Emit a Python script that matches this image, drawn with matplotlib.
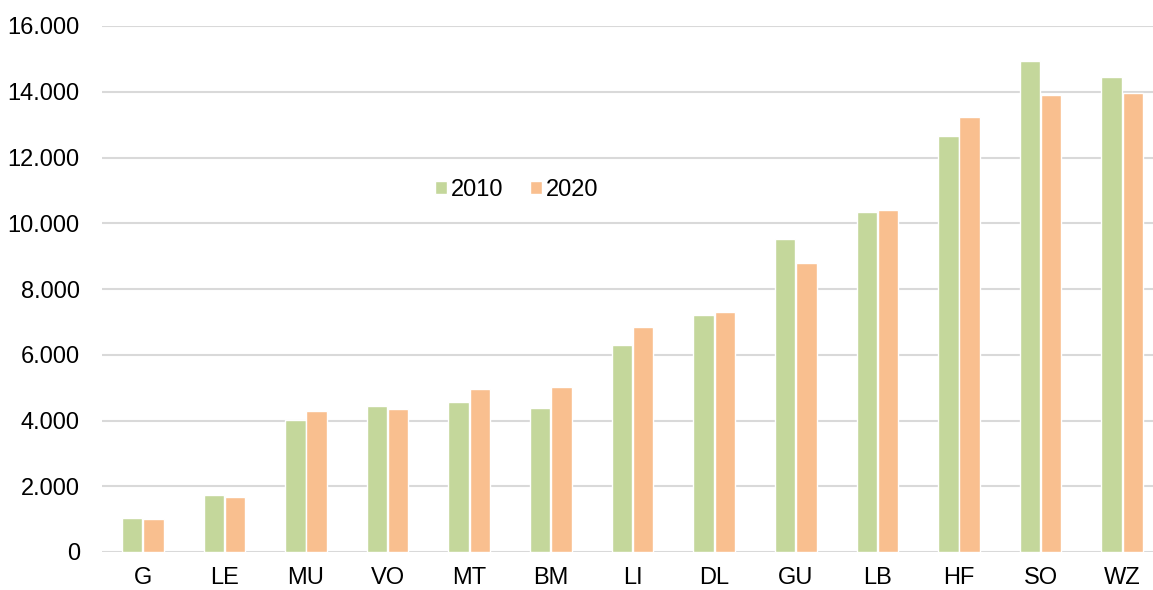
import numpy as np
import matplotlib.pyplot as plt
from matplotlib.ticker import FuncFormatter

plt.rcParams['font.family'] = ['Liberation Sans', 'DejaVu Sans']

# Districts and values
districts = ['G', 'LE', 'MU', 'VO', 'MT', 'BM', 'LI', 'DL', 'GU', 'LB', 'HF', 'SO', 'WZ']
values_2010 = [1025, 1745, 4005, 4440, 4550, 4370, 6300, 7210, 9520, 10340, 12650, 14925, 14440]
values_2020 = [1005, 1665, 4280, 4360, 4945, 5015, 6845, 7290, 8790, 10400, 13230, 13900, 13970]

col_2010 = '#C4D79B'
col_2020 = '#F9BF8F'

fig = plt.figure(figsize=(11.53, 5.90), dpi=100)
# plot area is a bit wider than the image (right side is cut off)
ax = fig.add_axes([102/1153, 38/590, 1061/1153, 526/590])

x = np.arange(len(districts))
w = 0.25
ax.bar(x - 0.13, values_2010, w, color=col_2010, edgecolor='white', linewidth=1, label='2010', zorder=3)
ax.bar(x + 0.13, values_2020, w, color=col_2020, edgecolor='white', linewidth=1, label='2020', zorder=3)

ax.set_xlim(-0.5, len(districts) - 0.5)
ax.set_ylim(0, 16000)
ax.set_yticks(np.arange(0, 16001, 2000))
ax.yaxis.set_major_formatter(FuncFormatter(lambda v, p: f'{int(v):,}'.replace(',', '.')))
ax.set_xticks(x)
ax.set_xticklabels(districts)

ax.grid(axis='y', color='#D9D9D9', linewidth=1.5, zorder=0)
for s in ax.spines.values():
    s.set_visible(False)
ax.tick_params(axis='both', length=0, labelsize=17)
ax.tick_params(axis='y', pad=16)
ax.tick_params(axis='x', pad=11)

ax.legend(loc='center', bbox_to_anchor=(0.391, 0.688), ncol=2, frameon=False,
          fontsize=17, handlelength=0.5, handleheight=0.5, handletextpad=0.17,
          columnspacing=1.15)

fig.savefig('out.png', dpi=100)
